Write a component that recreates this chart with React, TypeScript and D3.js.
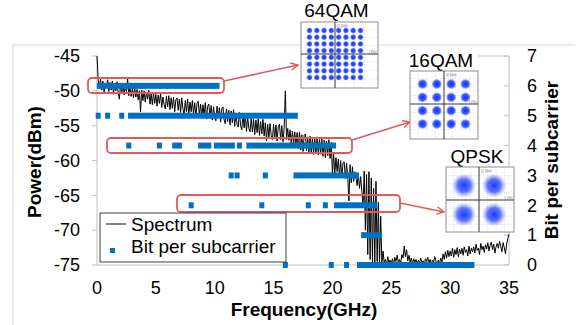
import React from 'react';
import * as d3 from 'd3';

// spectrum trace, one value per 0.1 GHz from 0 to 35 GHz (dBm)
const SPEC_STEP = 0.1;
const spectrum = [
  -45.0, -48.4, -49.6, -48.3, -49.9, -48.6, -50.2, -48.9, -49.5, -48.4,
  -50.1, -48.8, -49.9, -48.6, -50.5, -49.0, -50.0, -48.7, -50.3, -51.2,
  -49.0, -50.4, -48.9, -50.6, -49.3, -50.1, -48.2, -50.7, -49.4, -50.8,
  -49.6, -51.0, -49.5, -50.9, -49.8, -51.3, -50.0, -53.0, -49.9, -51.4,
  -50.0, -51.6, -50.2, -51.2, -49.9, -51.9, -50.4, -52.0, -50.3, -51.8,
  -50.5, -52.2, -50.6, -51.8, -50.4, -52.4, -50.9, -52.0, -52.6, -50.8,
  -52.3, -50.7, -52.7, -51.0, -52.5, -50.9, -53.0, -51.3, -51.0, -52.8,
  -51.2, -53.1, -51.0, -52.6, -53.4, -51.4, -53.0, -51.2, -53.5, -51.6,
  -53.0, -51.4, -53.3, -51.7, -53.7, -51.8, -51.5, -53.5, -51.9, -53.9,
  -52.0, -53.6, -51.7, -54.0, -52.2, -51.9, -53.8, -52.1, -54.2, -52.3,
  -53.7, -54.3, -52.2, -53.9, -52.4, -54.5, -52.6, -52.3, -54.2, -54.7,
  -52.6, -54.4, -52.8, -54.9, -52.9, -54.6, -52.7, -55.1, -53.2, -54.8,
  -55.2, -53.1, -55.0, -55.6, -53.4, -55.3, -53.5, -55.8, -53.7, -55.4,
  -55.9, -53.8, -55.9, -54.1, -56.3, -54.2, -56.0, -54.0, -56.4, -54.4,
  -56.2, -54.1, -56.5, -54.6, -57.2, -54.8, -56.7, -54.7, -56.4, -57.0,
  -54.8, -56.9, -54.9, -57.2, -55.1, -54.8, -57.0, -55.0, -57.3, -55.3,
  -50.0, -57.0, -55.4, -57.1, -55.6, -57.5, -55.8, -57.6, -55.9, -57.7,
  -56.0, -58.3, -55.9, -58.5, -56.3, -58.7, -56.4, -56.2, -58.6, -56.6,
  -58.8, -56.5, -58.9, -56.8, -59.1, -56.7, -59.0, -56.6, -59.2, -57.0,
  -59.1, -56.9, -59.4, -57.1, -59.6, -57.2, -59.3, -57.0, -59.7, -57.4,
  -62.0, -59.0, -61.9, -59.6, -61.6, -59.8, -62.2, -60.0, -62.5, -60.3,
  -60.2, -62.6, -60.4, -62.3, -65.8, -60.6, -63.2, -60.9, -63.0, -61.6,
  -62.4, -63.6, -61.9, -64.0, -62.3, -64.4, -66.8, -61.5, -70.0, -62.0,
  -73.5, -61.6, -74.2, -62.5, -74.6, -64.0, -74.8, -63.0, -74.5, -66.0,
  -74.9, -68.0, -74.6, -73.0, -74.8, -74.2, -74.9, -73.8, -74.7, -74.3,
  -74.8, -74.1, -74.9, -73.9, -74.5, -73.6, -74.7, -74.2, -74.8, -73.5,
  -74.0, -72.3, -73.8, -72.8, -74.4, -73.6, -74.6, -74.0, -74.8, -74.1,
  -74.6, -74.2, -74.9, -74.3, -74.7, -74.0, -74.6, -74.4, -74.9, -74.1,
  -74.5, -73.9, -74.7, -74.2, -74.8, -74.3, -74.6, -73.8, -74.5, -74.7,
  -74.3, -74.8, -74.0, -74.6, -73.4, -74.2, -73.1, -74.0, -72.9, -73.8,
  -73.0, -73.7, -72.6, -73.9, -72.8, -73.5, -72.5, -73.8, -72.7, -73.4,
  -72.6, -73.6, -72.4, -73.2, -72.8, -73.7, -72.3, -73.4, -72.6, -73.1,
  -72.4, -73.3, -72.0, -72.9, -72.6, -73.5, -71.9, -72.8, -72.3, -73.2,
  -72.1, -72.7, -71.8, -73.0, -72.2, -71.7, -72.8, -72.0, -73.3, -72.4,
  -71.9, -72.6, -71.6, -72.3, -73.1, -71.8, -72.5, -73.4, -72.0, -71.2,
  -70.6,
];

// bit loading: [bits, first subcarrier GHz, last subcarrier GHz]
const bitRuns: [number, number, number][] = [
  [6, 0.2, 9.3], [6, 9.6, 10.2],
  [5, 0.1, 0.1], [5, 0.9, 0.9], [5, 2.1, 2.1], [5, 2.85, 16.85],
  [4, 2.7, 2.7], [4, 5.3, 5.3], [4, 6.6, 7.0], [4, 8.8, 9.5], [4, 10.15, 11.5],
  [4, 12.1, 12.1], [4, 12.9, 13.4], [4, 13.8, 20.1],
  [3, 11.4, 11.4], [3, 11.9, 11.9], [3, 14.3, 14.3], [3, 16.9, 22.05],
  [2, 8.0, 8.0], [2, 14.0, 14.0], [2, 17.95, 17.95], [2, 19.4, 19.4], [2, 20.35, 23.6],
  [1, 22.65, 24.0],
  [0, 16.0, 16.0], [0, 19.9, 19.9], [0, 21.2, 21.2], [0, 22.3, 31.85],
];

const freqTicks = [0, 5, 10, 15, 20, 25, 30, 35];
const powerTicks = [-45, -50, -55, -60, -65, -70, -75];
const bitTicks = [0, 1, 2, 3, 4, 5, 6, 7];

const qam64Levels = [-7, -5, -3, -1, 1, 3, 5, 7];
const qam16Levels = [-3, -1, 1, 3];
const qpskLevels = [-1, 1];

const BLUE = '#0070C0';
const RED = '#E05A57';
const FONT = '"Liberation Sans", Arial, sans-serif';

const x = d3.scaleLinear().domain([0, 35]).range([97, 509]);
const yP = d3.scaleLinear().domain([-75, -45]).range([265, 56]);
const yB = d3.scaleLinear().domain([0, 7]).range([265, 56]);

interface InsetProps {
  id: string;
  title: string;
  titleY: number;
  box: [number, number, number, number]; // x0, y0, x1, y1
  center: [number, number];
  half: [number, number]; // pixel distance for the outer level
  levels: number[];
  r: number;
  soft: boolean;
}

const Inset: React.FC<InsetProps> = ({ id, title, titleY, box, center, half, levels, r, soft }) => {
  const [x0, y0, x1, y1] = box;
  const [cx, cy] = center;
  const m = d3.max(levels)!;
  const sx = d3.scaleLinear().domain([-m, m]).range([cx - half[0], cx + half[0]]);
  const sy = d3.scaleLinear().domain([-m, m]).range([cy + half[1], cy - half[1]]);
  const gx = [1, 2, 3].flatMap(k => [cx - (k * (x1 - x0)) / 8, cx + (k * (x1 - x0)) / 8]).filter(v => v > x0 + 2 && v < x1 - 2);
  const gy = [1, 2, 3].flatMap(k => [cy - (k * (y1 - y0)) / 8, cy + (k * (y1 - y0)) / 8]).filter(v => v > y0 + 2 && v < y1 - 2);
  return (
    <g>
      <defs>
        <radialGradient id={id}>
          <stop offset="0%" stopColor="#1030ff" stopOpacity={soft ? 0.95 : 1} />
          <stop offset={soft ? '55%' : '60%'} stopColor="#2a46ff" stopOpacity={soft ? 0.75 : 0.9} />
          <stop offset="100%" stopColor="#6a80ff" stopOpacity={0} />
        </radialGradient>
      </defs>
      <text x={(x0 + x1) / 2 - 3} y={titleY} textAnchor="middle" fontSize={19} fontFamily={FONT} fill="#000">{title}</text>
      <rect x={x0} y={y0} width={x1 - x0} height={y1 - y0} fill="#fff" stroke="#8c8c8c" strokeWidth={1} />
      {gx.map((v, i) => (
        <line key={'gx' + i} x1={v} x2={v} y1={y0} y2={y1} stroke="#c8c8c8" strokeWidth={0.6} strokeDasharray="1,1.5" />
      ))}
      {gy.map((v, i) => (
        <line key={'gy' + i} x1={x0} x2={x1} y1={v} y2={v} stroke="#c8c8c8" strokeWidth={0.6} strokeDasharray="1,1.5" />
      ))}
      {levels.flatMap(a => levels.map(b => (
        <circle key={a + '_' + b} cx={sx(a)} cy={sy(b)} r={r} fill={`url(#${id})`} />
      )))}
      <line x1={cx} x2={cx} y1={y0} y2={y1} stroke="#333" strokeWidth={1} />
      <line x1={x0} x2={x1} y1={cy} y2={cy} stroke="#333" strokeWidth={1} />
      <text x={cx + 2} y={y0 + 5} fontSize={3.5} fontFamily={FONT} fill="#555">Q (Ue)</text>
      <text x={x1 - 9} y={cy - 1.5} fontSize={3.5} fontFamily={FONT} fill="#555">I (%)</text>
    </g>
  );
};

const App: React.FC = () => {
  const line = d3.line<number>()
    .x((_, i) => x(i * SPEC_STEP))
    .y(d => yP(d));

  const mw = 5;
  const mh = 6;

  return (
    <svg width={586} height={325} style={{ position: 'absolute', left: 0, top: 0, background: '#fff' }}>
      {/* chart area border */}
      <line x1={13} x2={575} y1={45} y2={45} stroke="#d4d4d4" strokeWidth={1} />
      <line x1={13} x2={13} y1={45} y2={325} stroke="#d4d4d4" strokeWidth={1} />

      {/* axes */}
      <line x1={x(0)} x2={x(0)} y1={yP(-45)} y2={yP(-75)} stroke="#bfbfbf" />
      <line x1={x(0)} x2={x(35)} y1={yP(-75)} y2={yP(-75)} stroke="#bfbfbf" />
      <line x1={x(35)} x2={x(35)} y1={yB(7)} y2={yB(0)} stroke="#bfbfbf" />
      <line x1={478} x2={x(35)} y1={yB(7)} y2={yB(7)} stroke="#bfbfbf" />
      {powerTicks.map(t => (
        <g key={'p' + t}>
          <line x1={x(0) - 5} x2={x(0)} y1={yP(t)} y2={yP(t)} stroke="#bfbfbf" />
          <text x={80} y={yP(t)} dy="0.35em" textAnchor="end" fontSize={18} fontFamily={FONT}>{t}</text>
        </g>
      ))}
      {bitTicks.map(t => (
        <g key={'b' + t}>
          <line x1={x(35) - 5} x2={x(35)} y1={yB(t)} y2={yB(t)} stroke="#bfbfbf" />
          <text x={527} y={yB(t)} dy="0.35em" textAnchor="start" fontSize={18} fontFamily={FONT}>{t}</text>
        </g>
      ))}
      {freqTicks.map(t => (
        <text key={'f' + t} x={x(t)} y={294} textAnchor="middle" fontSize={18} fontFamily={FONT}>{t}</text>
      ))}

      {/* axis titles */}
      <text x={304} y={316} textAnchor="middle" fontSize={19} fontWeight="bold" fontFamily={FONT}>Frequency(GHz)</text>
      <text transform="translate(41,162) rotate(-90)" textAnchor="middle" fontSize={19} fontWeight="bold" fontFamily={FONT}>Power(dBm)</text>
      <text transform="translate(558,160) rotate(-90)" textAnchor="middle" fontSize={19} fontWeight="bold" fontFamily={FONT}>Bit per subcarrier</text>

      {/* spectrum */}
      <path d={line(spectrum) || ''} fill="none" stroke="#000" strokeWidth={1} strokeLinejoin="round" />

      {/* bit per subcarrier */}
      {bitRuns.map(([b, f0, f1], i) => (
        <rect key={'r' + i} x={x(f0) - mw / 2} y={yB(b) - mh / 2} width={x(f1) - x(f0) + mw} height={mh} fill={BLUE} />
      ))}

      {/* callouts */}
      <defs>
        <marker id="arrowHead" viewBox="0 0 10 10" refX={9} refY={5} markerWidth={9} markerHeight={9} orient="auto" markerUnits="userSpaceOnUse">
          <path d="M1,1 L9,5 L1,9" fill="none" stroke={RED} strokeWidth={1.6} />
        </marker>
      </defs>
      <rect x={88} y={78} width={136} height={15} rx={4} fill="none" stroke={RED} strokeWidth={1.8} />
      <rect x={107} y={138} width={245} height={15} rx={4} fill="none" stroke={RED} strokeWidth={1.8} />
      <rect x={177} y={195} width={223} height={17} rx={4} fill="none" stroke={RED} strokeWidth={1.8} />
      <line x1={224} y1={81} x2={298} y2={65} stroke={RED} strokeWidth={1.6} markerEnd="url(#arrowHead)" />
      <line x1={352} y1={140} x2={410} y2={122} stroke={RED} strokeWidth={1.6} markerEnd="url(#arrowHead)" />
      <line x1={400} y1={203} x2={444} y2={212} stroke={RED} strokeWidth={1.6} markerEnd="url(#arrowHead)" />

      {/* constellation insets */}
      <Inset id="g64" title="64QAM" titleY={17} box={[301, 22, 378, 88]} center={[335, 54]} half={[25.5, 23.5]} levels={qam64Levels} r={3.3} soft={false} />
      <Inset id="g16" title="16QAM" titleY={67} box={[410, 71, 478, 139]} center={[444, 104]} half={[21.5, 20]} levels={qam16Levels} r={5.5} soft={false} />
      <Inset id="g4" title="QPSK" titleY={163} box={[446, 167, 514, 232]} center={[479, 200]} half={[15, 14.5]} levels={qpskLevels} r={12} soft={true} />

      {/* legend */}
      <rect x={100} y={213} width={186} height={49} fill="#fff" stroke="#404040" strokeWidth={1} />
      <line x1={106} x2={126} y1={224} y2={224} stroke="#000" strokeWidth={1} />
      <text x={131} y={231} fontSize={19} fontFamily={FONT}>Spectrum</text>
      <rect x={110} y={248} width={5} height={5} fill={BLUE} />
      <text x={131} y={253} fontSize={19} fontFamily={FONT}>Bit per subcarrier</text>
    </svg>
  );
};

export default App;
